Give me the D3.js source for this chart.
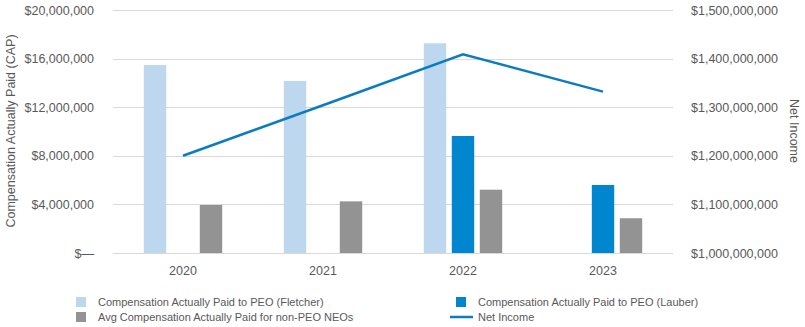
<!DOCTYPE html>
<html>
<head>
<meta charset="utf-8">
<script src="https://cdn.jsdelivr.net/npm/d3@7"></script>
<style>
  body { margin: 0; background: #fff; }
  svg text { font-family: "Liberation Sans", Arial, sans-serif; fill: #595959; }
</style>
</head>
<body>
<svg id="chart" width="805" height="327"></svg>
<script>
// data
var years = ["2020", "2021", "2022", "2023"];
var series = ["fletcher", "lauber", "neo"];
var fletcherCap = [15470000, 14160000, 17260000, null];
var lauberCap = [null, null, 9630000, 5600000];
var neoAvgCap = [3950000, 4250000, 5210000, 2860000];
var netIncome = [1200000000, 1304000000, 1409000000, 1332000000];
var leftTicks = [0, 4000000, 8000000, 12000000, 16000000, 20000000];
var rightTicks = [1000000000, 1100000000, 1200000000, 1300000000, 1400000000, 1500000000];

var colors = { fletcher: "#bdd7ee", lauber: "#0086cf", neo: "#939393", line: "#0b7cc1" };
var labels = {
  fletcher: "Compensation Actually Paid to PEO (Fletcher)",
  lauber: "Compensation Actually Paid to PEO (Lauber)",
  neo: "Avg Compensation Actually Paid for non-PEO NEOs",
  line: "Net Income"
};

var svg = d3.select("#chart");
var plot = { left: 113, right: 673, top: 10, bottom: 253 };

var x = d3.scaleBand().domain(years).range([plot.left, plot.right]);
var x1 = d3.scaleBand().domain(series).range([0, x.bandwidth()])
  .paddingInner(0.2).paddingOuter(1.1);
var y = d3.scaleLinear().domain([0, 20000000]).range([plot.bottom, plot.top]);
var y2 = d3.scaleLinear().domain([1000000000, 1500000000]).range([plot.bottom, plot.top]);

var fmt = d3.format("$,.0f");

// gridlines
svg.append("g").selectAll("line").data(leftTicks).join("line")
  .attr("x1", plot.left).attr("x2", plot.right)
  .attr("y1", function(d) { return Math.round(y(d)) + 0.5; })
  .attr("y2", function(d) { return Math.round(y(d)) + 0.5; })
  .attr("stroke", "#d9d9d9").attr("stroke-width", 1);

// left axis
var leftAxis = svg.append("g").attr("transform", "translate(" + (plot.left - 19) + ",0)")
  .call(d3.axisLeft(y).tickValues(leftTicks).tickSize(0)
    .tickFormat(function(d) { return d === 0 ? "$\u2014" : fmt(d); }));
leftAxis.select(".domain").remove();
leftAxis.selectAll("text").attr("x", 0).style("font-size", "12.5px");

// right axis
var rightAxis = svg.append("g").attr("transform", "translate(" + (plot.right + 18) + ",0)")
  .call(d3.axisRight(y2).tickValues(rightTicks).tickSize(0).tickFormat(fmt));
rightAxis.select(".domain").remove();
rightAxis.selectAll("text").attr("x", 0).style("font-size", "12.5px");

// bottom axis labels
var bottomAxis = svg.append("g").attr("transform", "translate(0," + plot.bottom + ")")
  .call(d3.axisBottom(x).tickSize(0));
bottomAxis.select(".domain").remove();
bottomAxis.selectAll("text").attr("y", 13).style("font-size", "12.5px");

// axis titles
svg.append("text")
  .attr("transform", "translate(15,131) rotate(-90)")
  .attr("text-anchor", "middle").style("font-size", "12.5px")
  .text("Compensation Actually Paid (CAP)");
svg.append("text")
  .attr("transform", "translate(790,131) rotate(90)")
  .attr("text-anchor", "middle").style("font-size", "12.5px")
  .text("Net Income");

// bars
var rows = years.map(function(yr, i) {
  return { year: yr, fletcher: fletcherCap[i], lauber: lauberCap[i], neo: neoAvgCap[i] };
});

svg.append("g").selectAll("g").data(rows).join("g")
  .attr("transform", function(d) { return "translate(" + x(d.year) + ",0)"; })
  .selectAll("rect")
  .data(function(d) {
    return series.filter(function(s) { return d[s] != null; })
      .map(function(s) { return { key: s, value: d[s] }; });
  })
  .join("rect")
  .attr("x", function(d) { return x1(d.key); })
  .attr("width", x1.bandwidth())
  .attr("y", function(d) { return y(d.value); })
  .attr("height", function(d) { return y(0) - y(d.value); })
  .attr("fill", function(d) { return colors[d.key]; });

// net income line
var line = d3.line()
  .x(function(d, i) { return x(years[i]) + x.bandwidth() / 2; })
  .y(function(d) { return y2(d); });
svg.append("path").datum(netIncome)
  .attr("d", line)
  .attr("fill", "none")
  .attr("stroke", colors.line)
  .attr("stroke-width", 2.5);

// legend
var legendItems = [
  { key: "fletcher", x: 76, y: 297 },
  { key: "lauber", x: 456, y: 297 },
  { key: "neo", x: 76, y: 312 },
  { key: "line", x: 456, y: 312 }
];
var lg = svg.append("g").selectAll("g").data(legendItems).join("g")
  .attr("transform", function(d) { return "translate(" + d.x + "," + d.y + ")"; });
lg.each(function(d) {
  var g = d3.select(this);
  if (d.key === "line") {
    g.append("line").attr("x1", -6).attr("x2", 17).attr("y1", 5).attr("y2", 5)
      .attr("stroke", colors.line).attr("stroke-width", 2.5);
  } else {
    g.append("rect").attr("width", 10).attr("height", 10).attr("fill", colors[d.key]);
  }
  g.append("text").attr("x", 22).attr("y", 9).style("font-size", "11px").text(labels[d.key]);
});
</script>
</body>
</html>
